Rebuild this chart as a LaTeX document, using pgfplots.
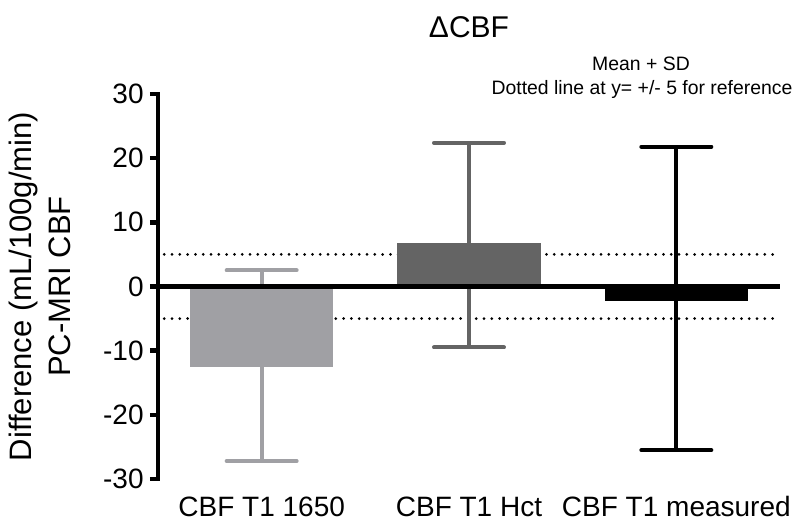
\documentclass[border=0pt]{standalone}
\usepackage{fontspec}
\setmainfont{Liberation Sans}
\usepackage{pgfplots}
\pgfplotsset{compat=1.18}
\usepackage{pgfplotstable}
\definecolor{barA}{HTML}{A0A0A4}
\definecolor{barB}{HTML}{646464}
\pgfplotstableread{
x y ep em
0 -12.6 15.1 14.6
}\barone
\pgfplotstableread{
x y ep em
1 6.8 15.6 16.3
}\bartwo
\pgfplotstableread{
x y ep em
2 -2.3 24.1 23.2
}\barthree
\begin{document}
\begin{tikzpicture}[x=1pt,y=1pt]
\useasboundingbox (0,0) rectangle (399.5,260);
\node[anchor=base,font=\fontsize{15}{18}\selectfont] at (234.5,241) {ΔCBF};
\node[anchor=base,font=\fontsize{9.7}{12}\selectfont] at (320.5,224.5) {Mean + SD};
\node[anchor=base,font=\fontsize{9.7}{12}\selectfont] at (321,212.5) {Dotted line at y= +/- 5 for reference};
\begin{axis}[
  at={(79pt,20.5pt)}, anchor=south west,
  scale only axis, width=311pt, height=192.5pt,
  xmin=-0.5, xmax=2.5, ymin=-30, ymax=30,
  axis x line*=bottom, axis y line*=left,
  x axis line style={draw=none},
  y axis line style={line width=2.2pt, line cap=rect},
  xtick={0,1,2},
  xticklabels={CBF T1 1650, CBF T1 Hct, CBF T1 measured},
  major x tick style={draw=none},
  xticklabel style={anchor=base, inner sep=0pt, yshift=-15pt, font=\fontsize{14}{16}\selectfont},
  ytick={-30,-20,-10,0,10,20,30},
  yticklabels={-30,-20,-10,0,10,20,30},
  yticklabel style={font=\fontsize{14}{16}\selectfont, inner sep=0pt, xshift=-3pt},
  tick align=outside, major tick length=4pt,
  major y tick style={line width=2.2pt, black},
  ylabel={Difference (mL/100g/min)\\PC-MRI CBF},
  every axis y label/.style={at={(axis description cs:-0.139,0.5)}, rotate=90, anchor=south, inner sep=0pt, align=center, font=\fontsize{15.5}{19.5}\selectfont},
  clip=false,
]
\addplot[black, line width=1.5pt, line cap=round, dash pattern=on 0pt off 3.9pt] coordinates {(-0.47,5) (2.5,5)};
\addplot[black, line width=1.5pt, line cap=round, dash pattern=on 0pt off 3.9pt] coordinates {(-0.47,-5) (2.5,-5)};
\addplot[ybar, bar width=0.69, bar shift=0pt, fill=barA, draw=none,
  error bars/.cd, y dir=both, y explicit,
  error bar style={line width=2pt, barA},
  error mark options={rotate=90, mark size=17.5pt, line width=2pt, line cap=round, barA}]
  table[x=x, y=y, y error plus=ep, y error minus=em] {\barone};
\addplot[ybar, bar width=0.69, bar shift=0pt, fill=barB, draw=none,
  error bars/.cd, y dir=both, y explicit,
  error bar style={line width=2pt, barB},
  error mark options={rotate=90, mark size=17.5pt, line width=2pt, line cap=round, barB}]
  table[x=x, y=y, y error plus=ep, y error minus=em] {\bartwo};
\addplot[ybar, bar width=0.69, bar shift=0pt, fill=black, draw=none,
  error bars/.cd, y dir=both, y explicit,
  error bar style={line width=2pt, black},
  error mark options={rotate=90, mark size=17.5pt, line width=2pt, line cap=round, black}]
  table[x=x, y=y, y error plus=ep, y error minus=em] {\barthree};
\addplot[black, line width=2.2pt] coordinates {(-0.5,0) (2.5,0)};
\end{axis}
\end{tikzpicture}
\end{document}
